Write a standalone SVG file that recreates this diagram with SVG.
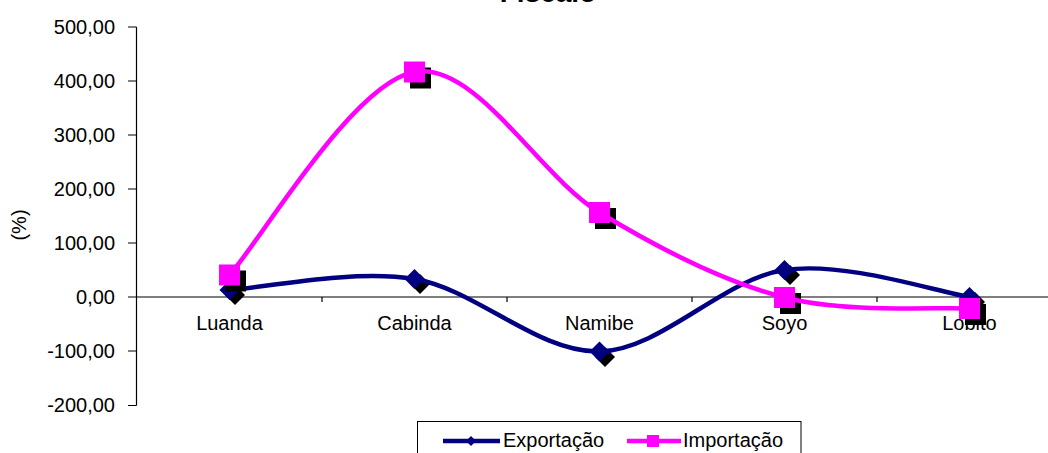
<svg xmlns="http://www.w3.org/2000/svg" width="1048" height="453" viewBox="0 0 1048 453">
<defs>
<style>
text{font-family:"Liberation Sans",Arial,sans-serif;font-size:20px;fill:#000}
.ax{stroke:#000;stroke-width:1.2;fill:none}
.exp{stroke:#000080;stroke-width:4.5;fill:none}
.imp{stroke:#FF00FF;stroke-width:4.5;fill:none}
.sh{fill:#000}
</style>
<polygon id="dia" points="0,-10 10,0 0,10 -10,0"/>
<rect id="sq" x="-10.5" y="-10.5" width="21" height="21"/>
</defs>
<rect width="1048" height="453" fill="#fff"/>
<text x="548" y="2" text-anchor="middle" style="font-size:28px;font-weight:bold">Fiscalo</text>
<g id="axes">
<path class="ax" d="M136.5,27V405.5 M128,27H136.5 M128,81H136.5 M128,135H136.5 M128,189H136.5 M128,243H136.5 M128,351H136.5 M128,405.5H136.5 M128,297H1048 M322,297V302 M507,297V302 M692,297V302 M877,297V302"/>
<g text-anchor="end">
<text x="115" y="34">500,00</text>
<text x="115" y="88">400,00</text>
<text x="115" y="142">300,00</text>
<text x="115" y="196">200,00</text>
<text x="115" y="250">100,00</text>
<text x="115" y="304">0,00</text>
<text x="115" y="358">-100,00</text>
<text x="115" y="412">-200,00</text>
</g>
<g text-anchor="middle">
<text x="229.5" y="330">Luanda</text>
<text x="414.5" y="330">Cabinda</text>
<text x="599.5" y="330">Namibe</text>
<text x="784.5" y="330">Soyo</text>
<text x="969.5" y="330">Lobito</text>
</g>
<text transform="translate(26,225) rotate(-90)" text-anchor="middle">(%)</text>
</g>
<g id="connectors">
<g class="sh">
<use href="#dia" x="235" y="295"/><use href="#dia" x="420" y="284"/><use href="#dia" x="605" y="357"/><use href="#dia" x="790" y="275"/><use href="#dia" x="975" y="302"/>
</g>
<path class="exp" d="M229.5,290 C260.3,288.2 352.8,268.75 414.5,279 C476.2,289.25 537.8,353 599.5,351.5 C661.2,350 722.8,279.1 784.5,270 C846.2,260.9 938.7,292.5 969.5,297"/>
<g fill="#000080">
<use href="#dia" x="229.5" y="290"/><use href="#dia" x="414.5" y="279"/><use href="#dia" x="599.5" y="351.5"/><use href="#dia" x="784.5" y="270"/><use href="#dia" x="969.5" y="297"/>
</g>
<g class="sh">
<use href="#sq" x="235.5" y="281"/><use href="#sq" x="420.5" y="78"/><use href="#sq" x="605.5" y="218.5"/><use href="#sq" x="790.5" y="303.5"/><use href="#sq" x="975.5" y="314.5"/>
</g>
<path class="imp" d="M229.5,275 C260.3,241.2 352.8,82.4 414.5,72 C476.2,61.6 537.8,174.9 599.5,212.5 C661.2,250.1 722.8,281.5 784.5,297.5 C846.2,313.5 938.7,306.7 969.5,308.5"/>
<g fill="#FF00FF">
<use href="#sq" x="229.5" y="275"/><use href="#sq" x="414.5" y="72"/><use href="#sq" x="599.5" y="212.5"/><use href="#sq" x="784.5" y="297.5"/><use href="#sq" x="969.5" y="308.5"/>
</g>
</g>
<g id="legend">
<rect x="417.5" y="421.5" width="383.5" height="40" fill="#fff" stroke="#000" stroke-width="1"/>
<line x1="443" y1="441" x2="500" y2="441" class="exp"/>
<polygon points="471,436 476,441 471,446 466,441" fill="#000080"/>
<text x="503" y="447">Exportação</text>
<line x1="627" y1="441" x2="681" y2="441" class="imp"/>
<rect x="647" y="435" width="12" height="12" fill="#FF00FF"/>
<text x="683" y="447">Importação</text>
</g>
</svg>
